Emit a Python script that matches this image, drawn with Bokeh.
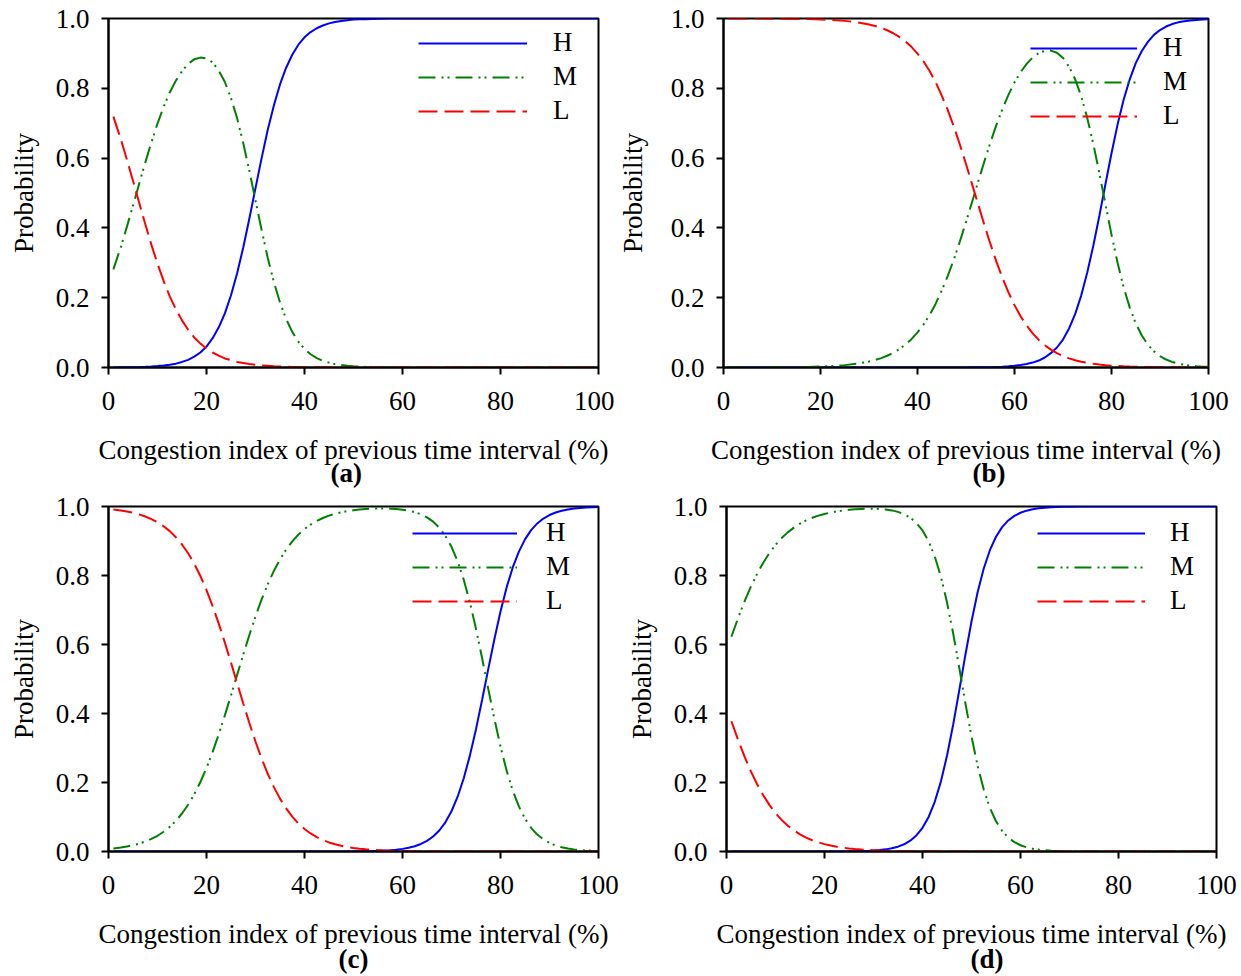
from bokeh.plotting import figure
from bokeh.models import (Range1d, FixedTicker, Legend, LegendItem, Title,
                          PrintfTickFormatter, ColumnDataSource)
from bokeh.layouts import row, column
from bokeh.embed import file_html
from bokeh.resources import INLINE

# ---------------- data ----------------
# panel (a)
A_X = [1, 2.5, 3.75, 5, 6.25, 7.5, 8.75, 10, 11.25, 12.5,
       13.75, 15, 16.25, 17.5, 18.75, 20, 21.25, 22.5, 23.75, 25,
       26.25, 27.5, 28.75, 30, 31.25, 32.5, 33.75, 35, 36.25, 37.5,
       38.75, 40, 41.25, 42.5, 43.75, 45, 46.25, 47.5, 48.75, 50,
       51.25, 52.5, 55, 57.5, 60, 62.5, 65, 67.5, 70, 72.5,
       75, 77.5, 80, 82.5, 85, 87.5, 90, 92.5, 95, 97.5, 100]
A_H = [0.0003, 0.0005, 0.0007, 0.001, 0.0014, 0.002, 0.0028, 0.004, 0.0055, 0.008,
       0.011, 0.016, 0.022, 0.031, 0.043, 0.060, 0.084, 0.115, 0.155, 0.207,
       0.270, 0.344, 0.427, 0.514, 0.600, 0.681, 0.751, 0.811, 0.859, 0.896,
       0.925, 0.946, 0.961, 0.972, 0.980, 0.986, 0.990, 0.993, 0.995, 0.997,
       0.9975, 0.998, 0.999, 1.0, 1.0, 1.0, 1.0, 1.0, 1.0, 1.0,
       1.0, 1.0, 1.0, 1.0, 1.0, 1.0, 1.0, 1.0, 1.0, 1.0, 1.0]
A_M = [0.281, 0.345, 0.403, 0.464, 0.526, 0.587, 0.645, 0.699, 0.747, 0.788,
       0.822, 0.849, 0.870, 0.883, 0.888, 0.886, 0.874, 0.851, 0.818, 0.772,
       0.714, 0.643, 0.563, 0.478, 0.394, 0.314, 0.245, 0.186, 0.139, 0.102,
       0.074, 0.053, 0.038, 0.027, 0.019, 0.014, 0.0096, 0.007, 0.0047, 0.0035,
       0.0024, 0.0017, 0.001, 0.0, 0.0, 0.0, 0.0, 0.0, 0.0, 0.0,
       0.0, 0.0, 0.0, 0.0, 0.0, 0.0, 0.0, 0.0, 0.0, 0.0, 0.0]
A_L = [0.719, 0.655, 0.596, 0.535, 0.4725, 0.411, 0.352, 0.297, 0.248, 0.204,
       0.167, 0.135, 0.108, 0.086, 0.0685, 0.054, 0.043, 0.034, 0.026, 0.021,
       0.016, 0.013, 0.010, 0.008, 0.006, 0.005, 0.0036, 0.003, 0.0022, 0.0017,
       0.0013, 0.001, 0.0008, 0.0006, 0.0005, 0.0004, 0.0003, 0.0002, 0.0002, 0.0001,
       0.0001, 0.0001, 0.0, 0.0, 0.0, 0.0, 0.0, 0.0, 0.0, 0.0,
       0.0, 0.0, 0.0, 0.0, 0.0, 0.0, 0.0, 0.0, 0.0, 0.0, 0.0]

# panel (b)
B_X = [1, 2.5, 5, 7.5, 10, 12.5, 15, 17.5, 20, 22.5,
       25, 27.5, 30, 31.25, 32.5, 33.75, 35, 36.25, 37.5, 38.75,
       40, 41.25, 42.5, 43.75, 45, 46.25, 47.5, 48.75, 50, 51.25,
       52.5, 53.75, 55, 56.25, 57.5, 58.75, 60, 61.25, 62.5, 63.75,
       65, 66.25, 67.5, 68.75, 70, 71.25, 72.5, 73.75, 75, 76.25,
       77.5, 78.75, 80, 81.25, 82.5, 83.75, 85, 86.25, 87.5, 88.75,
       90, 91.25, 92.5, 93.75, 95, 96.25, 97.5, 98.75, 100]
B_H = [0.0, 0.0, 0.0, 0.0, 0.0, 0.0, 0.0, 0.0, 0.0, 0.0,
       0.0, 0.0, 0.0, 0.0, 0.0, 0.0, 0.0, 0.0, 0.0, 0.0,
       0.0, 0.0, 0.0, 0.0, 0.0001, 0.0001, 0.0001, 0.0002, 0.0003, 0.0004,
       0.0005, 0.0008, 0.001, 0.0016, 0.002, 0.0034, 0.005, 0.0069, 0.010, 0.0141,
       0.020, 0.0287, 0.041, 0.0573, 0.080, 0.112, 0.153, 0.206, 0.272, 0.349,
       0.435, 0.525, 0.614, 0.696, 0.767, 0.825, 0.872, 0.907, 0.933, 0.953,
       0.967, 0.977, 0.984, 0.989, 0.992, 0.994, 0.996, 0.997, 0.998]
B_M = [0.0001, 0.0001, 0.0002, 0.0003, 0.0004, 0.0007, 0.0011, 0.0017, 0.0027, 0.0043,
       0.0068, 0.0108, 0.0171, 0.0214, 0.0269, 0.0337, 0.0423, 0.0526, 0.0654, 0.0811,
       0.1007, 0.1233, 0.1506, 0.1829, 0.2209, 0.2626, 0.3099, 0.3617, 0.4167, 0.4741,
       0.5320, 0.5889, 0.6434, 0.6943, 0.7404, 0.7812, 0.8165, 0.8461, 0.8700, 0.8882,
       0.9009, 0.9076, 0.9081, 0.9017, 0.8870, 0.8619, 0.8260, 0.7775, 0.7151, 0.6406,
       0.5566, 0.4680, 0.3808, 0.3002, 0.2301, 0.1723, 0.1264, 0.0915, 0.0654, 0.0463,
       0.0326, 0.0228, 0.0160, 0.0111, 0.0077, 0.0053, 0.0037, 0.0025, 0.0018]
B_L = [0.9999, 0.9999, 0.9998, 0.9997, 0.9996, 0.9993, 0.9989, 0.9983, 0.9973, 0.9957,
       0.9932, 0.9892, 0.9829, 0.9786, 0.9731, 0.9663, 0.9577, 0.9474, 0.9346, 0.9189,
       0.8993, 0.8767, 0.8494, 0.8171, 0.7790, 0.7373, 0.6900, 0.6381, 0.5830, 0.5255,
       0.4675, 0.4103, 0.3555, 0.3041, 0.2573, 0.2154, 0.1787, 0.1470, 0.1202, 0.0977,
       0.0791, 0.0637, 0.0512, 0.0410, 0.0328, 0.0261, 0.0208, 0.0166, 0.0132, 0.0105,
       0.0083, 0.0066, 0.0052, 0.0042, 0.0033, 0.0026, 0.0021, 0.0016, 0.0013, 0.0010,
       0.0008, 0.0007, 0.0005, 0.0004, 0.0003, 0.0003, 0.0002, 0.0002, 0.0001]

# panel (c)
C_X = [1, 2.5, 3.75, 5, 6.25, 7.5, 8.75, 10, 11.25, 12.5,
       13.75, 15, 16.25, 17.5, 18.75, 20, 21.25, 22.5, 23.75, 25,
       26.25, 27.5, 28.75, 30, 31.25, 32.5, 33.75, 35, 36.25, 37.5,
       38.75, 40, 41.25, 42.5, 43.75, 45, 46.25, 47.5, 48.75, 50,
       51.25, 52.5, 53.75, 55, 56.25, 57.5, 58.75, 60, 61.25, 62.5,
       63.75, 65, 66.25, 67.5, 68.75, 70, 71.25, 72.5, 73.75, 75,
       76.25, 77.5, 78.75, 80, 81.25, 82.5, 83.75, 85, 86.25, 87.5,
       88.75, 90, 91.25, 92.5, 93.75, 95, 96.25, 97.5, 98.75, 100]
C_H = [0.0, 0.0, 0.0, 0.0, 0.0, 0.0, 0.0, 0.0, 0.0, 0.0,
       0.0, 0.0, 0.0, 0.0, 0.0, 0.0, 0.0, 0.0, 0.0, 0.0,
       0.0, 0.0, 0.0, 0.0, 0.0, 0.0, 0.0, 0.0, 0.0, 0.0,
       0.0, 0.0, 0.0, 0.0, 0.0001, 0.0001, 0.0002, 0.0002, 0.0003, 0.0004,
       0.0006, 0.0009, 0.0013, 0.0018, 0.0026, 0.0037, 0.0053, 0.0076, 0.0108, 0.0154,
       0.0218, 0.0308, 0.0434, 0.0609, 0.0847, 0.1167, 0.1588, 0.2123, 0.2779, 0.3546,
       0.4398, 0.5285, 0.6154, 0.6957, 0.7655, 0.8233, 0.8693, 0.9048, 0.9314, 0.9509,
       0.9651, 0.9753, 0.9826, 0.9877, 0.9914, 0.9940, 0.9958, 0.9970, 0.9979, 0.9985]
C_M = [0.0086, 0.0114, 0.0144, 0.0182, 0.0229, 0.0289, 0.0364, 0.0456, 0.0572, 0.0714,
       0.0889, 0.1101, 0.1356, 0.1659, 0.2014, 0.2423, 0.2886, 0.3396, 0.3947, 0.4526,
       0.5119, 0.5708, 0.6277, 0.6813, 0.7306, 0.7747, 0.8134, 0.8468, 0.8752, 0.8989,
       0.9185, 0.9346, 0.9477, 0.9583, 0.9667, 0.9736, 0.9789, 0.9833, 0.9866, 0.9892,
       0.9912, 0.9926, 0.9936, 0.9942, 0.9942, 0.9938, 0.9927, 0.9908, 0.9880, 0.9836,
       0.9774, 0.9686, 0.9561, 0.9387, 0.9150, 0.8831, 0.8410, 0.7876, 0.7220, 0.6454,
       0.5601, 0.4715, 0.3846, 0.3043, 0.2345, 0.1767, 0.1307, 0.0952, 0.0686, 0.0491,
       0.0349, 0.0247, 0.0174, 0.0123, 0.0086, 0.0060, 0.0042, 0.0030, 0.0021, 0.0015]
C_L = [0.9914, 0.9886, 0.9856, 0.9818, 0.9771, 0.9711, 0.9636, 0.9544, 0.9428, 0.9286,
       0.9111, 0.8899, 0.8644, 0.8341, 0.7986, 0.7577, 0.7114, 0.6604, 0.6053, 0.5474,
       0.4881, 0.4292, 0.3723, 0.3187, 0.2694, 0.2253, 0.1866, 0.1532, 0.1248, 0.1011,
       0.0815, 0.0654, 0.0523, 0.0417, 0.0332, 0.0263, 0.0209, 0.0165, 0.0131, 0.0104,
       0.0082, 0.0065, 0.0051, 0.0040, 0.0032, 0.0025, 0.0020, 0.0016, 0.0012, 0.0010,
       0.0008, 0.0006, 0.0005, 0.0004, 0.0003, 0.0002, 0.0002, 0.0001, 0.0001, 0.0001,
       0.0001, 0.0, 0.0, 0.0, 0.0, 0.0, 0.0, 0.0, 0.0, 0.0,
       0.0, 0.0, 0.0, 0.0, 0.0, 0.0, 0.0, 0.0, 0.0, 0.0]

# panel (d)
D_X = [1, 2.5, 3.75, 5, 6.25, 7.5, 8.75, 10, 11.25, 12.5,
       13.75, 15, 16.25, 17.5, 18.75, 20, 21.25, 22.5, 23.75, 25,
       26.25, 27.5, 28.75, 30, 31.25, 32.5, 33.75, 35, 36.25, 37.5,
       38.75, 40, 41.25, 42.5, 43.75, 45, 46.25, 47.5, 48.75, 50,
       51.25, 52.5, 53.75, 55, 56.25, 57.5, 58.75, 60, 61.25, 62.5,
       63.75, 65, 66.25, 67.5, 68.75, 70, 72.5, 75, 77.5, 80,
       82.5, 85, 87.5, 90, 92.5, 95, 97.5, 100]
D_H = [0.0, 0.0, 0.0, 0.0, 0.0, 0.0, 0.0, 0.0, 0.0, 0.0,
       0.0, 0.0, 0.0, 0.0, 0.0001, 0.0001, 0.0002, 0.0002, 0.0003, 0.0005,
       0.0008, 0.0012, 0.0018, 0.0027, 0.0041, 0.0062, 0.0093, 0.0140, 0.0209, 0.0313,
       0.0465, 0.0687, 0.1002, 0.1441, 0.2026, 0.2775, 0.3670, 0.4670, 0.5697, 0.6667,
       0.7513, 0.8203, 0.8733, 0.9124, 0.9402, 0.9596, 0.9729, 0.9819, 0.9879, 0.9920,
       0.9947, 0.9965, 0.9977, 0.9985, 0.9990, 0.9993, 0.9997, 0.9999, 1.0, 1.0,
       1.0, 1.0, 1.0, 1.0, 1.0, 1.0, 1.0, 1.0]
D_M = [0.6225, 0.6819, 0.7274, 0.7685, 0.8051, 0.8372, 0.8649, 0.8884, 0.9084, 0.9250,
       0.9388, 0.9503, 0.9596, 0.9673, 0.9735, 0.9785, 0.9826, 0.9859, 0.9885, 0.9905,
       0.9919, 0.9930, 0.9935, 0.9935, 0.9929, 0.9914, 0.9887, 0.9844, 0.9778, 0.9677,
       0.9527, 0.9306, 0.8993, 0.8555, 0.7971, 0.7222, 0.6328, 0.5328, 0.4302, 0.3332,
       0.2486, 0.1797, 0.1267, 0.0876, 0.0598, 0.0404, 0.0271, 0.0181, 0.0121, 0.0080,
       0.0053, 0.0035, 0.0023, 0.0015, 0.0010, 0.0007, 0.0003, 0.0001, 0.0, 0.0,
       0.0, 0.0, 0.0, 0.0, 0.0, 0.0, 0.0, 0.0]
D_L = [0.3775, 0.3181, 0.2726, 0.2315, 0.1949, 0.1628, 0.1351, 0.1116, 0.0916, 0.0750,
       0.0612, 0.0497, 0.0404, 0.0327, 0.0264, 0.0214, 0.0172, 0.0139, 0.0112, 0.0090,
       0.0073, 0.0058, 0.0047, 0.0038, 0.0030, 0.0024, 0.0020, 0.0016, 0.0013, 0.0010,
       0.0008, 0.0007, 0.0005, 0.0004, 0.0003, 0.0003, 0.0002, 0.0002, 0.0001, 0.0001,
       0.0001, 0.0, 0.0, 0.0, 0.0, 0.0, 0.0, 0.0, 0.0, 0.0,
       0.0, 0.0, 0.0, 0.0, 0.0, 0.0, 0.0, 0.0, 0.0, 0.0,
       0.0, 0.0, 0.0, 0.0, 0.0, 0.0, 0.0, 0.0]

X_TICKS = [0, 20, 40, 60, 80, 100]
Y_TICKS = [0.0, 0.2, 0.4, 0.6, 0.8, 1.0]
SERIES_LABELS = ["H", "M", "L"]
X_LABEL = "Congestion index of previous time interval (%)"
Y_LABEL = "Probability"
TAGS = ["(a)", "(b)", "(c)", "(d)"]

for xs, arrs in ((A_X, (A_H, A_M, A_L)), (B_X, (B_H, B_M, B_L)),
                 (C_X, (C_H, C_M, C_L)), (D_X, (D_H, D_M, D_L))):
    for arr in arrs:
        assert len(arr) == len(xs), (len(arr), len(xs))

FONT = "Liberation Serif"
FS = "27px"
BLUE, GREEN, RED = "#0000ff", "#008000", "#ff0000"


def make_panel(xs, h, m, l, tag, width, height, bl, br, bt, bb,
               legend_loc, glyph_w, lab_standoff, tag_offset, tag_standoff,
               ylab_standoff):
    p = figure(width=width, height=height, title=None,
               x_range=Range1d(0, 100), y_range=Range1d(0, 1),
               output_backend="svg", toolbar_location=None,
               min_border_left=bl, min_border_right=br,
               min_border_top=bt, min_border_bottom=bb)
    p.xgrid.visible = False
    p.ygrid.visible = False
    p.background_fill_color = "white"
    p.border_fill_color = "white"
    p.outline_line_color = "black"
    p.outline_line_width = 2
    p.outline_line_alpha = 1

    src = ColumnDataSource(dict(x=xs, h=h, m=m, l=l))
    rh = p.line("x", "h", source=src, line_color=BLUE, line_width=2)
    rm = p.line("x", "m", source=src, line_color=GREEN, line_width=2,
                line_dash="17 6 2 4 2 6")
    rl = p.line("x", "l", source=src, line_color=RED, line_width=2,
                line_dash="19 7")

    legend = Legend(items=[LegendItem(label=SERIES_LABELS[0], renderers=[rh]),
                           LegendItem(label=SERIES_LABELS[1], renderers=[rm]),
                           LegendItem(label=SERIES_LABELS[2], renderers=[rl])],
                    location=legend_loc, orientation="vertical",
                    glyph_width=glyph_w, glyph_height=30, label_height=30,
                    label_standoff=lab_standoff, spacing=3, padding=0, margin=0,
                    border_line_alpha=0, background_fill_alpha=0,
                    label_text_font=FONT, label_text_font_size=FS,
                    label_text_color="black")
    p.add_layout(legend)

    for ax in (p.xaxis[0], p.yaxis[0]):
        ax.axis_line_color = "black"
        ax.axis_line_width = 2
        ax.major_tick_line_color = "black"
        ax.major_tick_line_width = 2
        ax.major_tick_out = 7
        ax.major_tick_in = 0
        ax.minor_tick_line_color = None
        ax.major_label_text_font = FONT
        ax.major_label_text_font_size = FS
        ax.major_label_text_color = "black"
        ax.axis_label_text_font = FONT
        ax.axis_label_text_font_size = FS
        ax.axis_label_text_font_style = "normal"
        ax.axis_label_text_color = "black"

    p.xaxis[0].major_label_standoff = 17
    p.yaxis[0].major_label_standoff = 12
    p.xaxis[0].ticker = FixedTicker(ticks=X_TICKS)
    p.yaxis[0].ticker = FixedTicker(ticks=Y_TICKS)
    p.yaxis[0].formatter = PrintfTickFormatter(format="%.1f")
    p.xaxis[0].axis_label = X_LABEL
    p.yaxis[0].axis_label = Y_LABEL
    p.xaxis[0].axis_label_standoff = 22
    p.yaxis[0].axis_label_standoff = ylab_standoff

    # panel tag below the axis title
    p.add_layout(Title(text=tag, align="left", offset=tag_offset,
                       standoff=tag_standoff, text_font=FONT,
                       text_font_size=FS, text_font_style="bold",
                       text_color="black"), "below")
    return p


pa = make_panel(A_X, A_H, A_M, A_L, TAGS[0], 614, 490, 108, 16, 17, 123,
                (310, 241), 109, 26, 222, -24, 14)
pb = make_panel(B_X, B_H, B_M, B_L, TAGS[1], 627, 490, 104, 33, 18, 122,
                (307, 236), 107, 26, 249, -24, 20)
pc = make_panel(C_X, C_H, C_M, C_L, TAGS[2], 620, 486, 108, 22, 16, 125,
                (304, 235), 105, 29, 230, -19, 14)
pd = make_panel(D_X, D_H, D_M, D_L, TAGS[3], 621, 486, 106, 25, 16, 125,
                (311, 235), 108, 25, 244, -19, 14)

layout = column(row(pa, pb), row(pc, pd))

open("out.html", "w").write(file_html(layout, INLINE))
